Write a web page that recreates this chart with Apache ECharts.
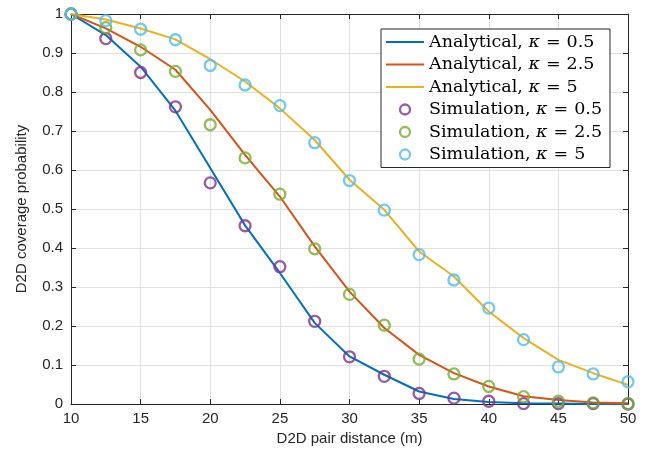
<!DOCTYPE html>
<html>
<head>
<meta charset="utf-8">
<script src="https://cdn.jsdelivr.net/npm/echarts@6/dist/echarts.min.js"></script>
<style>
  html, body { margin: 0; padding: 0; background: #fff; }
  #chart { width: 646px; height: 452px; }
</style>
</head>
<body>
<div id="chart"></div>
<script>
// D2D pair distance (m)
const distance = [10, 12.5, 15, 17.5, 20, 22.5, 25, 27.5, 30, 32.5, 35, 37.5, 40, 42.5, 45, 47.5, 50];

// Analytical coverage probability
const analytic05 = [1.0, 0.946, 0.865, 0.752, 0.605, 0.458, 0.336, 0.208, 0.122, 0.075, 0.032, 0.013, 0.005, 0.002, 0.001, 0.0, 0.0];
const analytic25 = [1.0, 0.963, 0.916, 0.857, 0.754, 0.639, 0.532, 0.404, 0.288, 0.195, 0.126, 0.079, 0.045, 0.02, 0.01, 0.004, 0.002];
const analytic5  = [1.0, 0.986, 0.963, 0.935, 0.884, 0.827, 0.758, 0.677, 0.575, 0.498, 0.391, 0.327, 0.237, 0.169, 0.113, 0.079, 0.049];

// Simulated coverage probability
const sim05 = [1.0, 0.937, 0.85, 0.762, 0.567, 0.457, 0.352, 0.212, 0.121, 0.071, 0.027, 0.015, 0.007, 0.001, 0.001, 0.001, 0.0];
const sim25 = [1.0, 0.965, 0.908, 0.853, 0.716, 0.631, 0.538, 0.398, 0.281, 0.202, 0.115, 0.077, 0.045, 0.019, 0.007, 0.003, 0.001];
const sim5  = [1.0, 0.983, 0.961, 0.934, 0.868, 0.818, 0.765, 0.670, 0.573, 0.497, 0.383, 0.318, 0.246, 0.165, 0.095, 0.077, 0.057];

const xTicks = [10, 15, 20, 25, 30, 35, 40, 45, 50];
const yTicks = [0, 0.1, 0.2, 0.3, 0.4, 0.5, 0.6, 0.7, 0.8, 0.9, 1];

const seriesNames = [
  'Analytical, κ = 0.5', 'Analytical, κ = 2.5', 'Analytical, κ = 5',
  'Simulation, κ = 0.5', 'Simulation, κ = 2.5', 'Simulation, κ = 5'
];

const pair = (ys) => distance.map((d, i) => [d, ys[i]]);

const axisColor = '#262626';
const gridColor = '#e0e0e0';
const tickFont = 'Liberation Sans, Arial, sans-serif';
const legendFont = 'DejaVu Serif, serif';
const legendSize = 17.5;

// thin horizontal bar inside an 38x10 box, used as the legend icon of the curves
const lineIcon = 'path://M0,0L0,0M0,4L38,4L38,6L0,6ZM38,10L38,10';

function lineSeries(name, ys, color) {
  return {
    name, type: 'line', data: pair(ys), symbol: 'none', smooth: false,
    lineStyle: { color, width: 2 }, itemStyle: { color },
    z: 2, animation: false
  };
}
function simSeries(name, ys, color) {
  return {
    name, type: 'scatter', data: pair(ys), symbol: 'circle', symbolSize: 11,
    itemStyle: { color: 'rgba(0,0,0,0)', borderColor: color, borderWidth: 2.3 },
    z: 3, animation: false
  };
}

// "Label, κ = v" with an italic kappa and math-style spacing round "="
function legendText(name) {
  const m = name.match(/^(.*), κ = (.*)$/);
  return m[1] + ', {k|κ}{eq|=}' + m[2];
}

const chart = echarts.init(document.getElementById('chart'), null, { renderer: 'canvas' });
chart.setOption({
  backgroundColor: '#fff',
  animation: false,
  grid: { left: 71, right: 18, top: 14, bottom: 48, containLabel: false },
  legend: {
    orient: 'vertical', left: 381, top: 29,
    padding: [4, 8, 4, 5],
    backgroundColor: '#fff', borderColor: axisColor, borderWidth: 1,
    itemWidth: 38, itemHeight: 10, itemGap: 4.5,
    data: seriesNames.map((n, i) => i < 3
      ? { name: n, icon: lineIcon }
      : { name: n, icon: 'circle', itemStyle: { color: 'rgba(0,0,0,0)', borderWidth: 2.3 } }),
    formatter: legendText,
    textStyle: {
      fontFamily: legendFont, fontSize: legendSize, color: '#000', lineHeight: 17,
      rich: {
        k: { fontFamily: legendFont, fontStyle: 'italic', fontSize: legendSize, lineHeight: 17 },
        eq: { fontFamily: legendFont, fontSize: legendSize, lineHeight: 17, padding: [0, 6, 0, 6] }
      }
    }
  },
  xAxis: [{
    type: 'value', min: 10, max: 50, interval: 5,
    name: 'D2D pair distance (m)', nameLocation: 'middle', nameGap: 25,
    nameTextStyle: { fontFamily: tickFont, fontSize: 15, color: axisColor },
    axisLine: { show: true, lineStyle: { color: axisColor, width: 1 } },
    axisTick: { show: true, inside: true, length: 5, lineStyle: { color: axisColor } },
    axisLabel: { fontFamily: tickFont, fontSize: 15, color: axisColor, margin: 7 },
    splitLine: { show: true, lineStyle: { color: gridColor, width: 1 } }
  }, {
    type: 'value', min: 10, max: 50, interval: 5, position: 'top',
    axisLine: { show: true, onZero: false, lineStyle: { color: axisColor, width: 1 } },
    axisTick: { show: true, inside: true, length: 5, lineStyle: { color: axisColor } },
    axisLabel: { show: false }, splitLine: { show: false }
  }],
  yAxis: [{
    type: 'value', min: 0, max: 1, interval: 0.1,
    name: 'D2D coverage probability', nameLocation: 'middle', nameGap: 42, nameRotate: 90,
    nameTextStyle: { fontFamily: tickFont, fontSize: 15, color: axisColor },
    axisLine: { show: true, lineStyle: { color: axisColor, width: 1 } },
    axisTick: { show: true, inside: true, length: 5, lineStyle: { color: axisColor } },
    axisLabel: { fontFamily: tickFont, fontSize: 15, color: axisColor, margin: 8,
      formatter: v => (Math.round(v * 10) / 10).toString() },
    splitLine: { show: true, lineStyle: { color: gridColor, width: 1 } }
  }, {
    type: 'value', min: 0, max: 1, interval: 0.1, position: 'right',
    axisLine: { show: true, onZero: false, lineStyle: { color: axisColor, width: 1 } },
    axisTick: { show: true, inside: true, length: 5, lineStyle: { color: axisColor } },
    axisLabel: { show: false }, splitLine: { show: false }
  }],
  series: [
    lineSeries(seriesNames[0], analytic05, '#0072BD'),
    lineSeries(seriesNames[1], analytic25, '#D95319'),
    lineSeries(seriesNames[2], analytic5, '#EDB120'),
    simSeries(seriesNames[3], sim05, '#7E2F8E'),
    simSeries(seriesNames[4], sim25, '#77AC30'),
    simSeries(seriesNames[5], sim5, '#4DBEEE')
  ]
});
</script>
</body>
</html>
